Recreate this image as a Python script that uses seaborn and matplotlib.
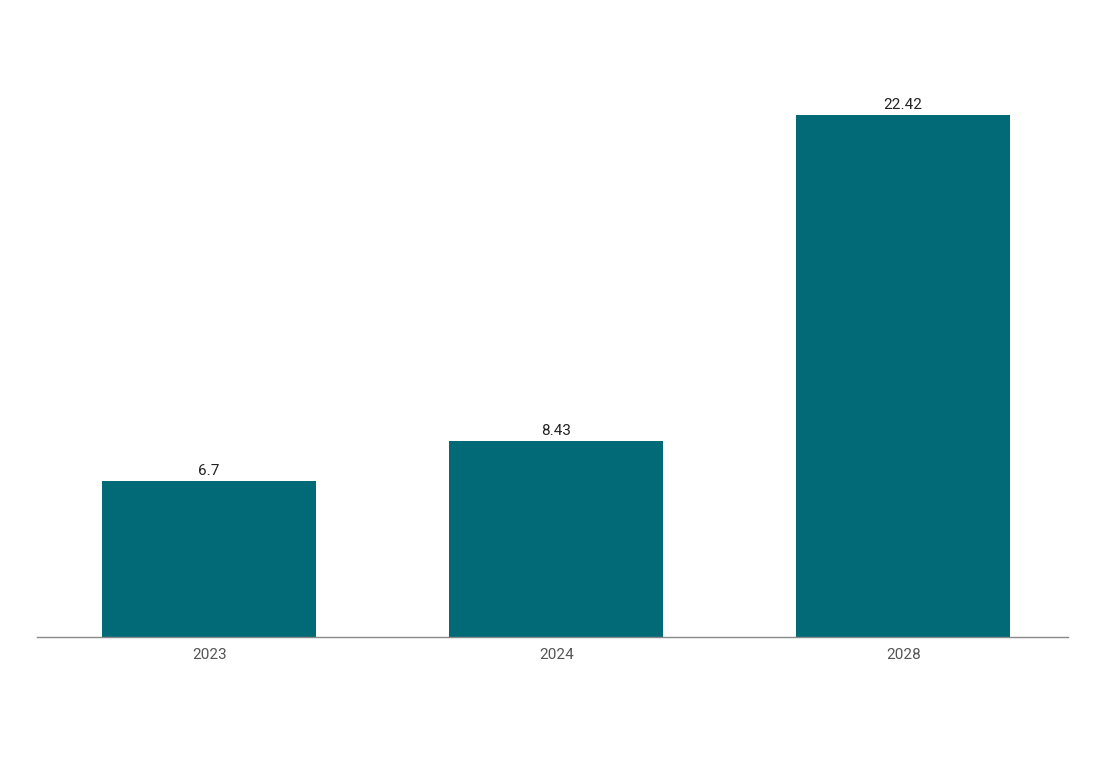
import pandas as pd
import seaborn as sns
import matplotlib.pyplot as plt

# dados do gráfico
anos = ["2023", "2024", "2028"]
valores = [6.7, 8.43, 22.42]
rotulos = ["6.7", "8.43", "22.42"]

COR_BARRA = "#016a76"

sns.set_theme(style="white")
plt.rcParams['font.family'] = ['Roboto', 'DejaVu Sans']

df = pd.DataFrame({"ano": anos, "valor": valores})

fig = plt.figure(figsize=(11, 7.62), dpi=100)
ax = fig.add_axes([37 / 1100, 1 - 637 / 762, 1031 / 1100, (637 - 78) / 762])

sns.barplot(data=df, x="ano", y="valor", color=COR_BARRA, width=0.617,
            saturation=1, linewidth=0, ax=ax)

for i, (v, txt) in enumerate(zip(valores, rotulos)):
    ax.text(i, v + 0.12, txt, ha="center", va="bottom", fontsize=11, color="#222222")

ax.set_xlim(-0.496, 2.475)
ax.set_ylim(0, 24)
ax.set_xlabel("")
ax.set_ylabel("")
ax.set_yticks([])
ax.tick_params(axis="x", length=0, labelsize=11, labelcolor="#555555", pad=8)

for lado in ["top", "right", "left"]:
    ax.spines[lado].set_visible(False)
ax.spines["bottom"].set_color("#888888")
ax.spines["bottom"].set_linewidth(1)

fig.savefig("out.png", dpi=100, facecolor="white")
